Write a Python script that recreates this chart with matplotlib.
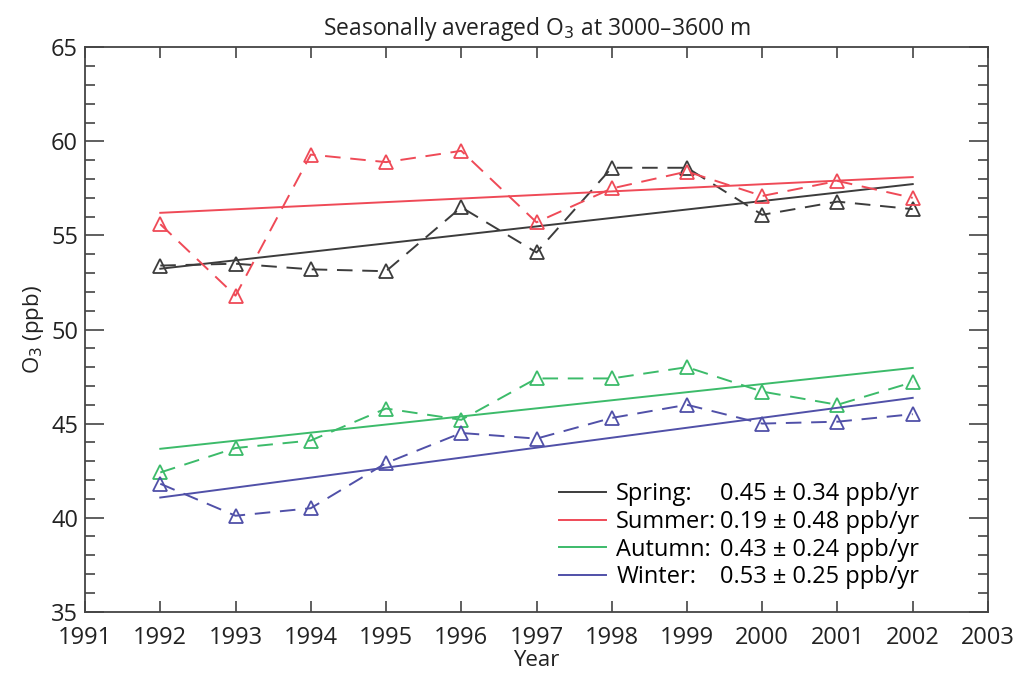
import numpy as np
import matplotlib
matplotlib.use('Agg')
import matplotlib.pyplot as plt
from matplotlib.lines import Line2D
from matplotlib.ticker import MultipleLocator

plt.rcParams['font.family'] = ['Open Sans', 'DejaVu Sans']

# seasonal mean ozone, 3000-3600 m
years = np.arange(1992, 2003)
spring = [53.4, 53.5, 53.2, 53.1, 56.5, 54.1, 58.6, 58.6, 56.1, 56.8, 56.4]
summer = [55.6, 51.8, 59.3, 58.9, 59.5, 55.7, 57.5, 58.4, 57.1, 57.9, 57.0]
autumn = [42.4, 43.7, 44.1, 45.8, 45.2, 47.4, 47.4, 48.0, 46.7, 46.0, 47.2]
winter = [41.8, 40.1, 40.5, 42.9, 44.5, 44.2, 45.3, 46.0, 45.0, 45.1, 45.5]

seasons = ['Spring:', 'Summer:', 'Autumn:', 'Winter:']
slopes = [0.45, 0.19, 0.43, 0.53]
slope_err = [0.34, 0.48, 0.24, 0.25]
colors = ['#3c3c3c', '#ef4a57', '#3cbb6a', '#5050a8']

fig = plt.figure(figsize=(10.27, 6.77), dpi=100)
ax = fig.add_axes([0.0828, 0.0965, 0.8792, 0.8335])

handles = []
for vals, slope, c in zip([spring, summer, autumn, winter], slopes, colors):
    vals = np.asarray(vals)
    ax.plot(years, vals, color=c, lw=1.4, dashes=(8, 5), marker='^',
            ms=10, mfc='none', mec=c, mew=1.3)
    # trend through the seasonal mean with the quoted slope
    trend = vals.mean() + slope * (years - years.mean())
    h, = ax.plot(years, trend, color=c, lw=1.4)
    handles.append(h)

ax.set_xlim(1991, 2003)
ax.set_ylim(35, 65)
ax.xaxis.set_major_locator(MultipleLocator(1))
ax.yaxis.set_major_locator(MultipleLocator(5))
ax.yaxis.set_minor_locator(MultipleLocator(1))
ax.tick_params(axis='both', which='both', direction='in', top=True, right=True,
               colors='#444444', labelcolor='#222222', labelsize=17, width=1.2)
ax.tick_params(axis='x', which='major', length=8, pad=10)
ax.tick_params(axis='y', which='major', length=14, pad=5)
ax.tick_params(axis='y', which='minor', length=7)
for s in ax.spines.values():
    s.set_color('#444444')
    s.set_linewidth(1.3)

ax.set_xlabel('Year', fontsize=16, color='#222222', labelpad=0)
ax.set_ylabel('O$_3$ (ppb)', fontsize=16, color='#222222', labelpad=4)
ax.set_title('Seasonally averaged O$_3$ at 3000\u20133600 m', fontsize=16.5,
             color='#222222', pad=9)

# two-column legend: season name, then the trend with its error
blank = [Line2D([], [], color='none') for _ in seasons]
rates = [f'{m:.2f} \u00b1 {e:.2f} ppb/yr' for m, e in zip(slopes, slope_err)]
leg = ax.legend(handles + blank, seasons + rates, ncol=2, loc='lower right',
                bbox_to_anchor=(0.942, 0.01), frameon=False, fontsize=17,
                handlelength=2.0, handletextpad=0.42, labelspacing=0.16,
                columnspacing=-2.28, borderpad=0.2)

fig.savefig('out.png', dpi=100)
